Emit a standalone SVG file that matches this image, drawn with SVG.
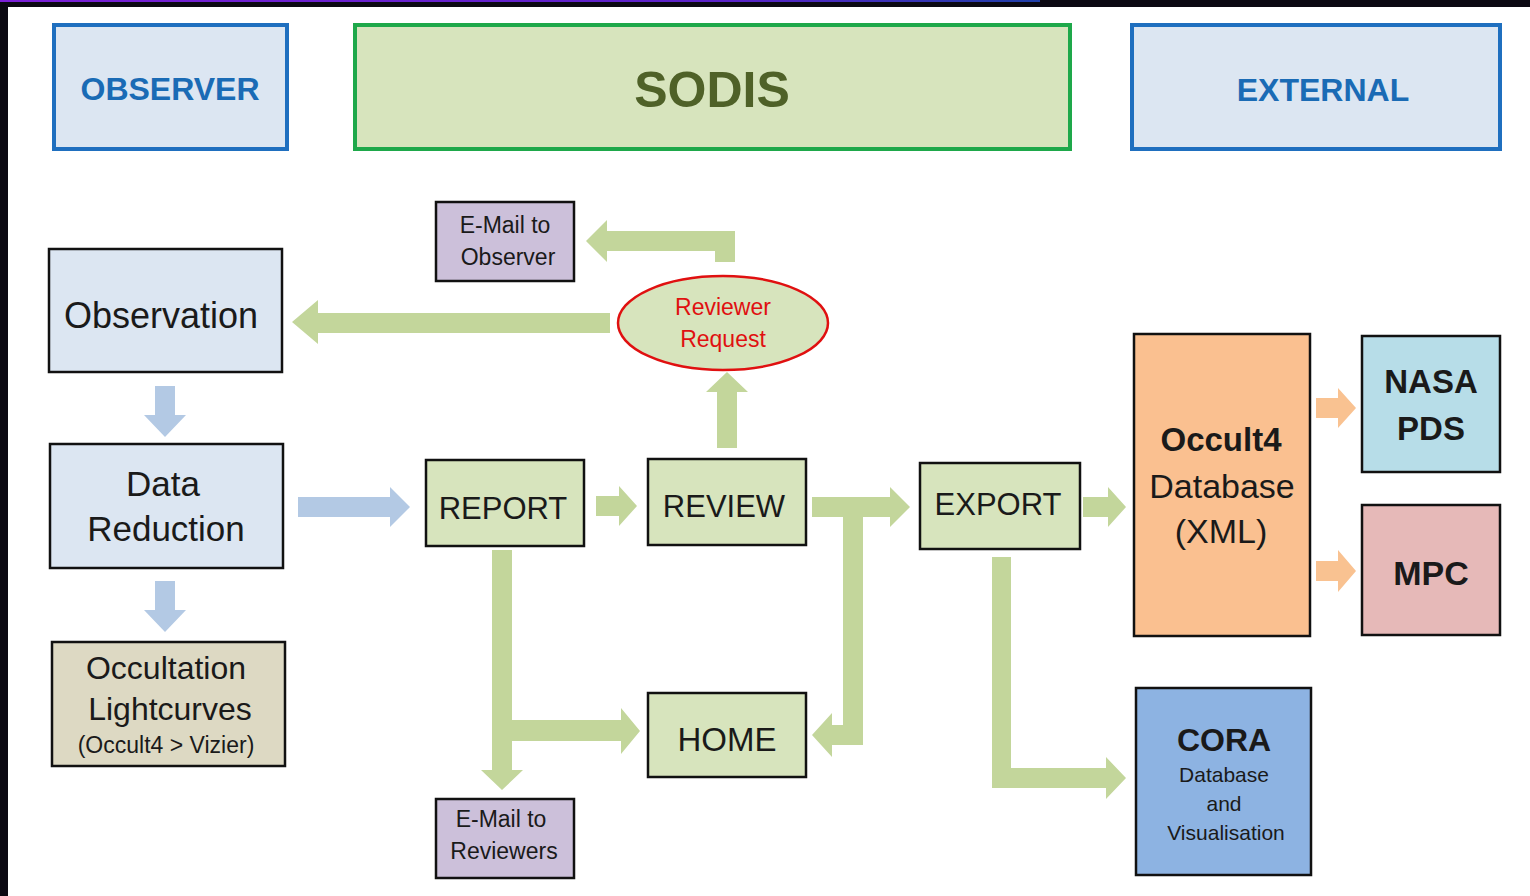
<svg xmlns="http://www.w3.org/2000/svg" width="1530" height="896" viewBox="0 0 1530 896">
<defs>
<linearGradient id="topline" x1="0" y1="0" x2="1" y2="0">
<stop offset="0" stop-color="#7a1fd6"/>
<stop offset="0.7" stop-color="#5a22c8"/>
<stop offset="1" stop-color="#1f3fa8"/>
</linearGradient>
<style>
text{font-family:"Liberation Sans",Arial,sans-serif;text-anchor:middle;fill:#1a1a1a}
.hdr{stroke-width:4}
.hb{fill:#dce6f2;stroke:#1f6fbf}
.hs{fill:#d7e4bd;stroke:#1ea84a}
.ht{font-weight:bold;fill:#1a6bb5;font-size:32px}
.box{stroke:#111;stroke-width:2.5}
.blue{fill:#dce6f2}
.green{fill:#d7e4bd}
.tan{fill:#ddd9c3}
.lilac{fill:#ccc0da}
.orange{fill:#fac090}
.cyan{fill:#b7dde8}
.pink{fill:#e6b9b8}
.cora{fill:#8db3e2}
.ga{fill:#c3d69b}
.ba{fill:#b3c9e4}
.oa{fill:#f9c291}
.b{font-weight:bold}
</style>
</defs>
<rect x="0" y="0" width="1530" height="896" fill="#0b0912"/>
<rect x="0" y="0" width="1040" height="2" fill="url(#topline)"/>
<rect x="8" y="7" width="1522" height="889" fill="#ffffff"/>

<g id="connectors">
<polygon class="ba" points="155,386 175,386 175,415 186,415 165,437 144,415 155,415"/>
<polygon class="ba" points="155,581 175,581 175,610 186,610 165,632 144,610 155,610"/>
<polygon class="ba" points="298,497 390,497 390,487 410,507 390,527 390,517 298,517"/>
<polygon class="ga" points="610,313 318,313 318,300 292,322 318,344 318,333 610,333"/>
<polygon class="ga" points="607,231 735,231 735,262 715,262 715,251 607,251 607,262 586,241 607,220"/>
<polygon class="ga" points="717,448 737,448 737,392 748,392 727,372 706,392 717,392"/>
<polygon class="ga" points="596,496 619,496 619,486 637,506 619,526 619,516 596,516"/>
<polygon class="ga" points="812,497 890,497 890,487 910,507 890,527 890,517 863,517 863,745 832,745 832,757 812,735 832,713 832,725 843,725 843,517 812,517"/>
<polygon class="ga" points="492,550 512,550 512,720 621,720 621,708 640,731 621,754 621,741 512,741 512,770 523,770 502,790 481,770 492,770"/>
<polygon class="ga" points="1083,497 1108,497 1108,487 1126,507 1108,527 1108,517 1083,517"/>
<polygon class="ga" points="992,557 1011,557 1011,768 1106,768 1106,757 1126,778 1106,799 1106,788 992,788"/>
<polygon class="oa" points="1316,398 1338,398 1338,388 1356,408 1338,428 1338,418 1316,418"/>
<polygon class="oa" points="1316,561 1338,561 1338,550 1356,571 1338,592 1338,581 1316,581"/>
</g>

<g id="observer-header">
<rect class="hdr hb" x="54" y="25" width="233" height="124"/>
<text class="ht" x="170" y="100">OBSERVER</text>
</g>
<g id="sodis-header">
<rect class="hdr hs" x="355" y="25" width="715" height="124"/>
<text x="712" y="107" font-size="50" font-weight="bold" style="fill:#4f6128">SODIS</text>
</g>
<g id="external-header">
<rect class="hdr hb" x="1132" y="25" width="368" height="124"/>
<text class="ht" x="1323" y="101">EXTERNAL</text>
</g>

<g id="observation">
<rect class="box blue" x="49" y="249" width="233" height="123"/>
<text x="161" y="328" font-size="36">Observation</text>
</g>
<g id="data-reduction">
<rect class="box blue" x="50" y="444" width="233" height="124"/>
<text x="163" y="496" font-size="35">Data</text>
<text x="166" y="541" font-size="35">Reduction</text>
</g>
<g id="lightcurves">
<rect class="box tan" x="52" y="642" width="233" height="124"/>
<text x="166" y="679" font-size="32">Occultation</text>
<text x="170" y="720" font-size="32">Lightcurves</text>
<text x="166" y="753" font-size="23">(Occult4 &gt; Vizier)</text>
</g>

<g id="email-observer">
<rect class="box lilac" x="436" y="202" width="138" height="79"/>
<text x="505" y="233" font-size="23">E-Mail to</text>
<text x="508" y="265" font-size="23">Observer</text>
</g>
<g id="reviewer-request">
<ellipse cx="723" cy="323" rx="105" ry="47" class="green" stroke="#e01010" stroke-width="2.5"/>
<text x="723" y="315" font-size="23" style="fill:#e01010">Reviewer</text>
<text x="723" y="347" font-size="23" style="fill:#e01010">Request</text>
</g>
<g id="report">
<rect class="box green" x="426" y="460" width="158" height="86"/>
<text x="503" y="519" font-size="31">REPORT</text>
</g>
<g id="review">
<rect class="box green" x="648" y="459" width="158" height="86"/>
<text x="724" y="517" font-size="31">REVIEW</text>
</g>
<g id="home">
<rect class="box green" x="648" y="693" width="158" height="84"/>
<text x="727" y="751" font-size="33">HOME</text>
</g>
<g id="export">
<rect class="box green" x="920" y="463" width="160" height="86"/>
<text x="998" y="515" font-size="31">EXPORT</text>
</g>
<g id="email-reviewers">
<rect class="box lilac" x="436" y="799" width="138" height="79"/>
<text x="501" y="827" font-size="23">E-Mail to</text>
<text x="504" y="859" font-size="23">Reviewers</text>
</g>

<g id="occult4-db">
<rect class="box orange" x="1134" y="334" width="176" height="302"/>
<text x="1221" y="451" font-size="33" class="b">Occult4</text>
<text x="1222" y="498" font-size="34">Database</text>
<text x="1221" y="543" font-size="34">(XML)</text>
</g>
<g id="nasa-pds">
<rect class="box cyan" x="1362" y="336" width="138" height="136"/>
<text x="1431" y="393" font-size="33" class="b">NASA</text>
<text x="1431" y="440" font-size="33" class="b">PDS</text>
</g>
<g id="mpc">
<rect class="box pink" x="1362" y="505" width="138" height="130"/>
<text x="1431" y="585" font-size="34" class="b">MPC</text>
</g>
<g id="cora">
<rect class="box cora" x="1136" y="688" width="175" height="187"/>
<text x="1224" y="751" font-size="32" class="b">CORA</text>
<text x="1224" y="782" font-size="21">Database</text>
<text x="1224" y="811" font-size="21">and</text>
<text x="1226" y="840" font-size="21">Visualisation</text>
</g>
</svg>
